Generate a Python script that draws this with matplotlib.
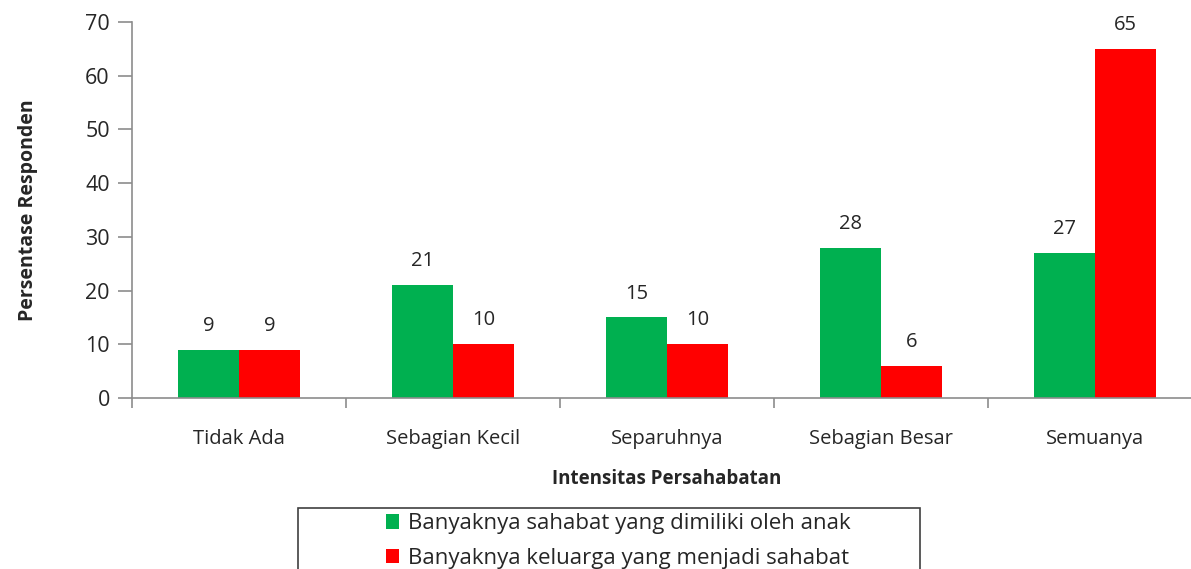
import numpy as np
import matplotlib.pyplot as plt
from matplotlib.patches import Rectangle

# Data
categories = ['Tidak Ada', 'Sebagian Kecil', 'Separuhnya', 'Sebagian Besar', 'Semuanya']
sahabat = [9, 21, 15, 28, 27]
keluarga = [9, 10, 10, 6, 65]
series_names = ['Banyaknya sahabat yang dimiliki oleh anak',
                'Banyaknya keluarga yang menjadi sahabat']

plt.rcParams['font.family'] = ['Open Sans', 'DejaVu Sans']
text_col = '#262626'
axis_col = '#8c8c8c'

fig = plt.figure(figsize=(11.91, 5.69), dpi=100)
ax = fig.add_axes([132 / 1191, 1 - 398 / 569, (1202 - 132) / 1191, (398 - 22) / 569])

x = np.arange(len(categories))
w = 0.285
b1 = ax.bar(x - w / 2, sahabat, w, color='#00b050', label=series_names[0])
b2 = ax.bar(x + w / 2, keluarga, w, color='#ff0000', label=series_names[1])

for bars, vals in [(b1, sahabat), (b2, keluarga)]:
    for rect, v in zip(bars, vals):
        ax.annotate(str(v), (rect.get_x() + rect.get_width() / 2, v),
                    xytext=(0, 10), textcoords='offset points',
                    ha='center', va='bottom', fontsize=14.5, color=text_col)

ax.set_xlim(-0.5, len(categories) - 0.5)
ax.set_ylim(0, 70)
ax.set_yticks(range(0, 71, 10))
ax.set_xticks(x)
ax.set_xticklabels(categories)
ax.set_xticks(np.arange(-0.5, len(categories) + 0.5, 1), minor=True)
ax.tick_params(axis='x', which='major', length=0, pad=22, labelsize=14.5, labelcolor=text_col)
ax.tick_params(axis='x', which='minor', length=7, color=axis_col, width=1.2)
ax.tick_params(axis='y', length=10, color=axis_col, width=1.2, labelsize=15.5,
               labelcolor=text_col, pad=6)

for s in ['top', 'right']:
    ax.spines[s].set_visible(False)
for s in ['left', 'bottom']:
    ax.spines[s].set_color(axis_col)
    ax.spines[s].set_linewidth(1.2)

ax.set_ylabel('Persentase Responden', fontsize=14, fontweight='bold', color=text_col, labelpad=34)
ax.set_xlabel('Intensitas Persahabatan', fontsize=13.5, fontweight='bold', color=text_col, labelpad=15)

# legend box (runs off the bottom edge like the original)
fig.patches.append(Rectangle((298 / 1191, -0.05), (920 - 298) / 1191, 0.05 + 1 - 508 / 569,
                             transform=fig.transFigure, fill=False,
                             edgecolor='#404040', linewidth=1.2))
fig.legend(handles=[b1, b2], loc='center', bbox_to_anchor=(618 / 1191, 1 - 541 / 569),
           frameon=False, fontsize=16, handlelength=0.6, handleheight=0.6,
           handletextpad=0.4, labelspacing=0.6, labelcolor=text_col)

fig.savefig('out.png', dpi=100)
